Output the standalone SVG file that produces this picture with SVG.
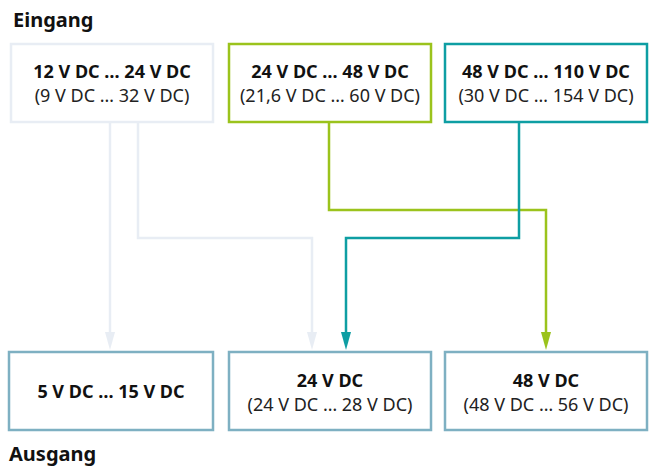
<svg xmlns="http://www.w3.org/2000/svg" width="651" height="468" viewBox="0 0 651 468">
<style>
text{font-family:"Noto Sans","Open Sans","Liberation Sans",sans-serif;fill:#111;text-anchor:middle}
.h{font-size:20px;font-weight:bold;text-anchor:start}
.b{font-size:18px;font-weight:bold}
.n{font-size:18px;fill:#222}
.box{fill:#fff;stroke-width:2.5}
.c{fill:none;stroke-width:2.5}
</style>
<text class="h" x="13" y="27">Eingang</text>
<text class="h" x="9" y="461">Ausgang</text>
<g id="in1"><rect class="box" x="11" y="44" width="202" height="78" stroke="#e8edf4"/><text class="b" x="112" y="78">12 V DC … 24 V DC</text><text class="n" x="112" y="102">(9 V DC … 32 V DC)</text></g>
<g id="in2"><rect class="box" x="229" y="44" width="202" height="78" stroke="#9bc31c"/><text class="b" x="330" y="78">24 V DC … 48 V DC</text><text class="n" x="330" y="102">(21,6 V DC … 60 V DC)</text></g>
<g id="in3"><rect class="box" x="445" y="44" width="202" height="78" stroke="#0e9ea3"/><text class="b" x="546" y="78">48 V DC … 110 V DC</text><text class="n" x="546" y="102">(30 V DC … 154 V DC)</text></g>
<g id="out1"><rect class="box" x="9" y="352" width="204" height="78" stroke="#7eb0c2"/><text class="b" x="111" y="398">5 V DC … 15 V DC</text></g>
<g id="out2"><rect class="box" x="229" y="352" width="202" height="78" stroke="#7eb0c2"/><text class="b" x="330" y="387">24 V DC</text><text class="n" x="330" y="411">(24 V DC … 28 V DC)</text></g>
<g id="out3"><rect class="box" x="445" y="352" width="202" height="78" stroke="#7eb0c2"/><text class="b" x="546" y="387">48 V DC</text><text class="n" x="546" y="411">(48 V DC … 56 V DC)</text></g>
<g id="connectors">
<path class="c" stroke="#e8edf4" d="M110,123 V334"/>
<path d="M105,332 L115,332 L110,350 Z" fill="#e8edf4"/>
<path class="c" stroke="#e8edf4" d="M138,123 V238 H312 V334"/>
<path d="M307,332 L317,332 L312,350 Z" fill="#e8edf4"/>
<path class="c" stroke="#9bc31c" d="M329,123 V210 H546 V334"/>
<path d="M541,332 L551,332 L546,350 Z" fill="#9bc31c"/>
<path class="c" stroke="#0e9ea3" d="M519,123 V238 H346 V334"/>
<path d="M341,332 L351,332 L346,350 Z" fill="#0e9ea3"/>
</g>
</svg>
